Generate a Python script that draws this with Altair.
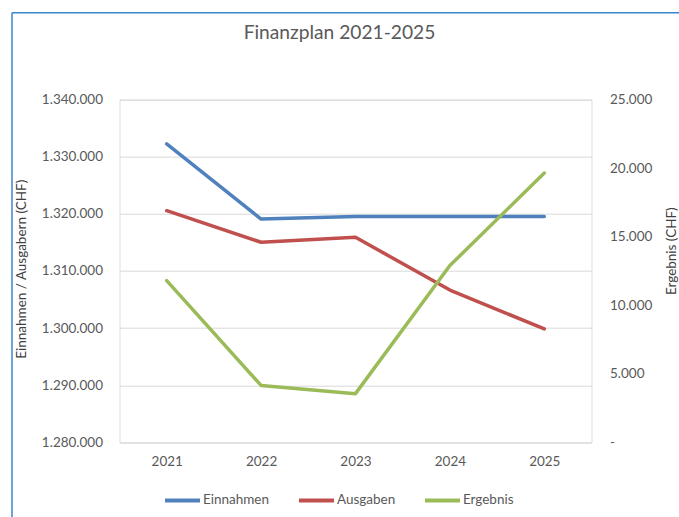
import altair as alt
import pandas as pd

years = ["2021", "2022", "2023", "2024", "2025"]
einnahmen = [1332250, 1319100, 1319550, 1319550, 1319550]
ausgaben = [1320560, 1315030, 1315900, 1306670, 1299850]
ergebnis = [11800, 4150, 3550, 12900, 19650]

series_names = ["Einnahmen", "Ausgaben", "Ergebnis"]
series_colors = ["#4F81BD", "#C0504D", "#9BBB59"]
left_ticks = [1280000, 1290000, 1300000, 1310000, 1320000, 1330000, 1340000]
right_ticks = [0, 5000, 10000, 15000, 20000, 25000]

rows = []
for name, vals in zip(series_names, [einnahmen, ausgaben, ergebnis]):
    for y, v in zip(years, vals):
        rows.append({"Jahr": y, "Serie": name, "Wert": v})
df = pd.DataFrame(rows)

FONT = "Lato"
LABEL = "#595959"
TITLE = "#404040"
fmt = "replace(format(datum.value, ',.0f'), /,/g, '.')"

color = alt.Color(
    "Serie:N",
    scale=alt.Scale(domain=series_names, range=series_colors),
    sort=series_names,
    legend=alt.Legend(
        title=None,
        orient="none",
        direction="horizontal",
        legendX=43.5,
        legendY=381,
        symbolType="stroke",
        symbolSize=1225,
        symbolStrokeWidth=4,
        labelFont=FONT,
        labelFontSize=13.5,
        labelColor=LABEL,
        labelOffset=1,
        columnPadding=21,
    ),
)

x = alt.X(
    "Jahr:O",
    sort=years,
    scale=alt.Scale(type="point", padding=0.5),
    axis=alt.Axis(
        title=None,
        ticks=False,
        tickSize=0,
        domain=False,
        labelAngle=0,
        labelPadding=12,
        labelFont=FONT,
        labelFontSize=13.5,
        labelColor=LABEL,
    ),
)

base = alt.Chart(df)

left = base.transform_filter(
    alt.FieldOneOfPredicate(field="Serie", oneOf=["Einnahmen", "Ausgaben"])
).mark_line(strokeWidth=3.5, strokeJoin="round", strokeCap="round").encode(
    x=x,
    y=alt.Y(
        "Wert:Q",
        scale=alt.Scale(domain=[1280000, 1340000], zero=False, nice=False),
        axis=alt.Axis(
            title="Einnahmen / Ausgabern (CHF)",
            values=left_ticks,
            labelExpr=fmt,
            ticks=False,
            tickSize=0,
            domain=False,
            grid=True,
            gridColor="#D9D9D9",
            gridWidth=1,
            labelPadding=17,
            labelFont=FONT,
            labelFontSize=13.5,
            labelColor=LABEL,
            titleFont=FONT,
            titleFontSize=13.5,
            titleFontWeight="normal",
            titleColor=TITLE,
            titleAngle=270,
            titleAlign="center",
            titleBaseline="middle",
            titleX=-98,
            titleY=169,
        ),
    ),
    color=color,
)

right = base.transform_filter(
    alt.FieldEqualPredicate(field="Serie", equal="Ergebnis")
).mark_line(strokeWidth=3.5, strokeJoin="round", strokeCap="round").encode(
    x=x,
    y=alt.Y(
        "Wert:Q",
        scale=alt.Scale(domain=[0, 25000], nice=False),
        axis=alt.Axis(
            orient="right",
            title="Ergebnis (CHF)",
            values=right_ticks,
            labelExpr="datum.value == 0 ? '-' : " + fmt,
            ticks=False,
            tickSize=0,
            domain=False,
            grid=False,
            labelPadding=18,
            labelFont=FONT,
            labelFontSize=13.5,
            labelColor=LABEL,
            titleFont=FONT,
            titleFontSize=13.5,
            titleFontWeight="normal",
            titleColor=TITLE,
            titleAngle=270,
            titleAlign="center",
            titleBaseline="middle",
            titleX=80.5,
            titleY=151,
        ),
    ),
    color=color,
)

# decorative frame of the chart area (selection border)
frame_left = alt.Chart(pd.DataFrame({"k": [0]})).mark_rule(color="#3A87D0", strokeWidth=1.5).encode(
    x=alt.value(-107.5), y=alt.value(-87), y2=alt.value(417.3)
)
frame_top = alt.Chart(pd.DataFrame({"k": [0]})).mark_rule(color="#3A87D0", strokeWidth=1.5).encode(
    x=alt.value(-107.5), x2=alt.value(559.5), y=alt.value(-87)
)

chart = alt.layer(left, right, frame_left, frame_top).resolve_scale(
    y="independent"
).properties(
    width=472,
    height=342.6,
    padding={"left": 119.5, "top": 99.7, "right": 87.3, "bottom": 74.7},
    autosize=alt.AutoSizeParams(type="none"),
    title=alt.TitleParams(
        text="Finanzplan 2021-2025",
        font=FONT,
        fontSize=19.2,
        fontWeight="normal",
        color=LABEL,
        anchor="middle",
        frame="group",
        baseline="top",
        dx=-16,
        offset=0,
        dy=31.5,
    ),
).configure_view(stroke=None).configure(background="white")

chart.save("out.html", embed_options={"renderer": "svg", "actions": False})
